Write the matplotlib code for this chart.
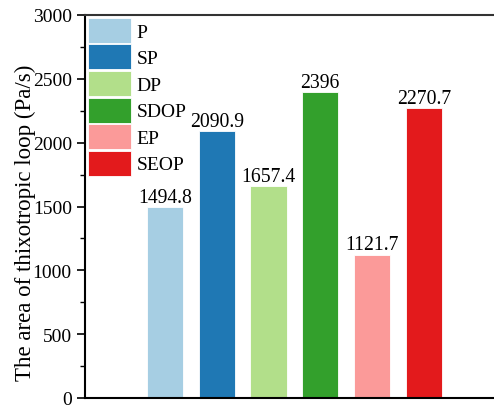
import matplotlib
matplotlib.use("Agg")
import matplotlib.pyplot as plt
from matplotlib.ticker import MultipleLocator
from matplotlib.patches import Patch

plt.rcParams['font.family'] = ['Liberation Serif', 'DejaVu Serif']

categories = ["P", "SP", "DP", "SDOP", "EP", "SEOP"]
values = [1494.8, 2090.9, 1657.4, 2396, 1121.7, 2270.7]
value_labels = ["1494.8", "2090.9", "1657.4", "2396", "1121.7", "2270.7"]
colors = ["#a6cee3", "#1f78b4", "#b2df8a", "#33a02c", "#fb9a99", "#e31a1c"]
y_label = "The area of thixotropic loop (Pa/s)"

fig = plt.figure(figsize=(4.94, 4.06), dpi=100)
ax = fig.add_axes([85 / 494, 1 - 399 / 406, 1.02 - 85 / 494, (399 - 16) / 406])

x = list(range(len(categories)))
bars = ax.bar(x, values, width=0.7, color=colors, edgecolor="white", linewidth=0.6)
for xi, v, lab in zip(x, values, value_labels):
    ax.text(xi, v + 3, lab, ha="center", va="bottom", fontsize=14.2)

ax.set_xlim(-1.544, 6.546)
ax.set_ylim(0, 3000)
ax.yaxis.set_major_locator(MultipleLocator(500))
ax.yaxis.set_minor_locator(MultipleLocator(250))
ax.set_xticks([])
ax.tick_params(axis="y", which="major", direction="out", length=6, width=1.2, labelsize=14)
ax.tick_params(axis="y", which="minor", direction="out", length=3.5, width=1.0)
for side in ["left", "bottom", "top"]:
    ax.spines[side].set_linewidth(1.5)
ax.spines["top"].set_color("#333333")
ax.spines["right"].set_visible(False)
ax.set_ylabel(y_label, fontsize=16.5)
ax.yaxis.set_label_coords(-0.117, 0.461)

handles = [Patch(facecolor=c, edgecolor="white", linewidth=0.6) for c in colors]
ax.legend(handles, categories, loc="upper left", frameon=False, fontsize=14,
          handlelength=2.2, handleheight=1.6, labelspacing=0.08,
          handletextpad=0.3, borderaxespad=0.05, borderpad=0.1)

fig.savefig("out.png", dpi=100)
